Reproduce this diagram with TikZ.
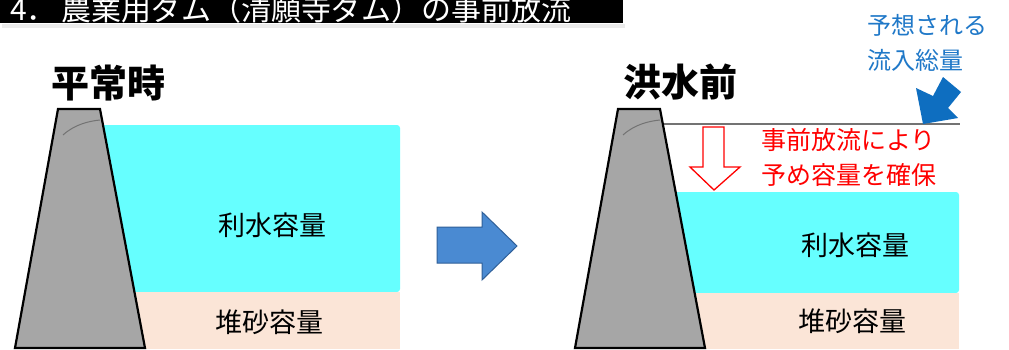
\documentclass[tikz,border=0pt]{standalone}
\usepackage{fontspec}
\newfontfamily\jp{Noto Sans CJK JP}
\usetikzlibrary{calc}
\definecolor{water}{HTML}{66FFFF}
\definecolor{sand}{HTML}{FBE5D7}
\definecolor{damgray}{HTML}{A6A6A6}
\definecolor{arrowblue}{HTML}{4A8AD2}
\definecolor{arrowedge}{HTML}{2F5F98}
\definecolor{inflow}{HTML}{0E6EC0}
\definecolor{labelblue}{HTML}{1F78C8}
\tikzset{
  dam/.style={fill=damgray, draw=black, line width=2.2pt, line join=miter},
  damcurve/.style={draw=black!55, line width=1pt},
  heading/.style={font=\jp\bfseries\fontsize{38}{40}\selectfont, text=black, inner sep=0pt},
  volume/.style={font=\jp\fontsize{27}{30}\selectfont, text=black, inner sep=0pt},
  note/.style={font=\jp\fontsize{25}{35}\selectfont, inner sep=0pt, align=left},
}
\begin{document}
\begin{tikzpicture}[x=1pt, y=-1pt]
\useasboundingbox (0,0) rectangle (1009,349);
\fill[white] (0,0) rectangle (1009,349);

% title bar
\fill[black!8] (2,24) rectangle (625,28);
\fill[black] (0,0) rectangle (623,23);
\begin{scope}
  \clip (0,0) rectangle (623,23);
  \node[anchor=base west, inner sep=0pt, text=white,
        font=\jp\fontsize{30}{32}\selectfont] (title) at (10,20.5)
    {4．\,農業用ダム（清願寺ダム）の事前放流};
\end{scope}

% ---- normal condition ----
\fill[water, rounded corners=3pt] (100,125) rectangle (400,292);
\fill[sand] (100,292) rectangle (400,349);
\draw[dam] (58,109) -- (100,109) -- (145,348) -- (15,348) -- cycle;
\draw[damcurve] (63,135) .. controls (75,124) and (90,121) .. (100,120);
\node[heading] (normal) at (108,83) {平常時};
\node[volume] (normalwater) at (272,225) {利水容量};
\node[volume] (normalsand) at (269,322) {堆砂容量};

% transition arrow
\filldraw[fill=arrowblue, draw=arrowedge, line width=1pt, line join=miter]
  (437,227) -- (482,227) -- (482,212) -- (517,246) -- (482,280) -- (482,263) -- (437,263) -- cycle;

% ---- before flood ----
\fill[water, rounded corners=3pt] (660,192) rectangle (959,293);
\fill[sand] (660,293) rectangle (959,349);
\draw[black!55, line width=1.3pt] (663,124) -- (960,124);
\draw[dam] (618,109) -- (660,109) -- (705,348) -- (575,348) -- cycle;
\draw[damcurve] (623,135) .. controls (635,124) and (650,121) .. (660,120);
\node[heading] (flood) at (680,82) {洪水前};
\node[volume] (floodwater) at (855,245) {利水容量};
\node[volume] (floodsand) at (852,321) {堆砂容量};

% expected inflow
\node[note, text=labelblue, font=\jp\fontsize{24}{35}\selectfont, anchor=base west]
  (inflowtext) at (867,69) {予想される\\流入総量};
\fill[inflow] (923,124) -- (916,88) -- (933,96) -- (943,77) -- (961,92) -- (948,108) -- (958,118) -- cycle;

% pre-release
\filldraw[fill=white, draw=red, line width=1.3pt, line join=miter]
  (703,127) -- (724,127) -- (724,167) -- (740,167) -- (714,190) -- (690,167) -- (703,167) -- cycle;
\node[note, text=red, anchor=base west] (release) at (761,184) {事前放流により\\予め容量を確保};
\end{tikzpicture}
\end{document}
